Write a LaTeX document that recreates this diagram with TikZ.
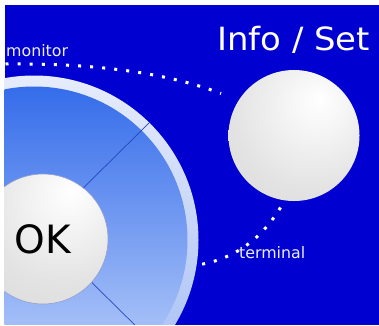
\documentclass[tikz,border=0pt]{standalone}
\usepackage{fontspec}
\setmainfont{DejaVu Sans}
\definecolor{bgblue}{RGB}{0,0,208}
\definecolor{ringtop}{RGB}{230,236,251}
\definecolor{ringbot}{RGB}{160,186,244}
\definecolor{disctop}{RGB}{52,108,234}
\definecolor{discbot}{RGB}{196,214,251}
\definecolor{divcol}{RGB}{36,70,190}
\definecolor{labelcol}{RGB}{236,238,255}
\definecolor{okedge}{RGB}{150,158,205}
\pgfdeclareradialshading{okshade}{\pgfpoint{11bp}{19bp}}{color(0bp)=(white); color(10bp)=(gray!7); color(30bp)=(gray!22); color(55bp)=(gray!32); color(90bp)=(gray!34)}
\pgfdeclareradialshading{infoshade}{\pgfpoint{10bp}{14bp}}{color(0bp)=(white); color(10bp)=(gray!7); color(30bp)=(gray!22); color(55bp)=(gray!33); color(90bp)=(gray!36)}
\tikzset{
  ball/.style={circle, inner sep=0pt, draw=none},
  dotline/.style={white, line width=3pt, line cap=butt, dash pattern=on 3pt off 9.1pt},
  divider/.style={divcol, line width=0.7pt},
  label/.style={text=labelcol, inner sep=0pt, font=\fontsize{15.8}{16}\selectfont}
}
\begin{document}
\begin{tikzpicture}[x=1pt,y=-1pt]
\useasboundingbox (0,0) rectangle (379,325);
\fill[white] (0,0) rectangle (379,325);
\fill[bgblue] (4.5,4.5) rectangle (378.5,324.5);
\begin{scope}
  \clip (4.5,4.5) rectangle (378.5,324.5);
  \coordinate (C) at (34,240);
  \shade[top color=ringtop, bottom color=ringbot] (C) circle (164.5pt);
  \shade[top color=disctop, bottom color=discbot] (C) circle (153.5pt);
  \coordinate (d1a) at (60,211);
  \coordinate (d1b) at (150.5,121.5);
  \coordinate (d2a) at (70,261);
  \coordinate (d2b) at (145,335);
  \draw[divider] (d1a) -- (d1b);
  \draw[divider] (d2a) -- (d2b);
  \node[ball, minimum size=130pt, shading=okshade, shade, draw=okedge, line width=0.6pt,
        font=\fontsize{39}{39}\selectfont] (ok) at (43,239) {OK};
  \coordinate (m1) at (5.5,64);
  \coordinate (m2) at (221,93.5);
  \draw[dotline] (m1) .. controls (100,63) and (170,74) .. (m2);
\end{scope}
\node[ball, minimum size=131pt, shading=infoshade, shade] (info) at (294,135.5) {};
\coordinate (t1) at (280.5,207.5);
\coordinate (t2) at (200.5,264.5);
\draw[dotline] (t1) .. controls (262,238) and (236,258) .. (t2);
\node[text=white, inner sep=0pt, anchor=base west, font=\fontsize{32}{32}\selectfont] (infoset) at (217,50) {\scalebox{1.06}[1]{Info / Set}};
\node[label, anchor=base west] (monitor) at (6,56) {monitor};
\node[label, anchor=base west] (terminal) at (239,258) {terminal};
\end{tikzpicture}
\end{document}
